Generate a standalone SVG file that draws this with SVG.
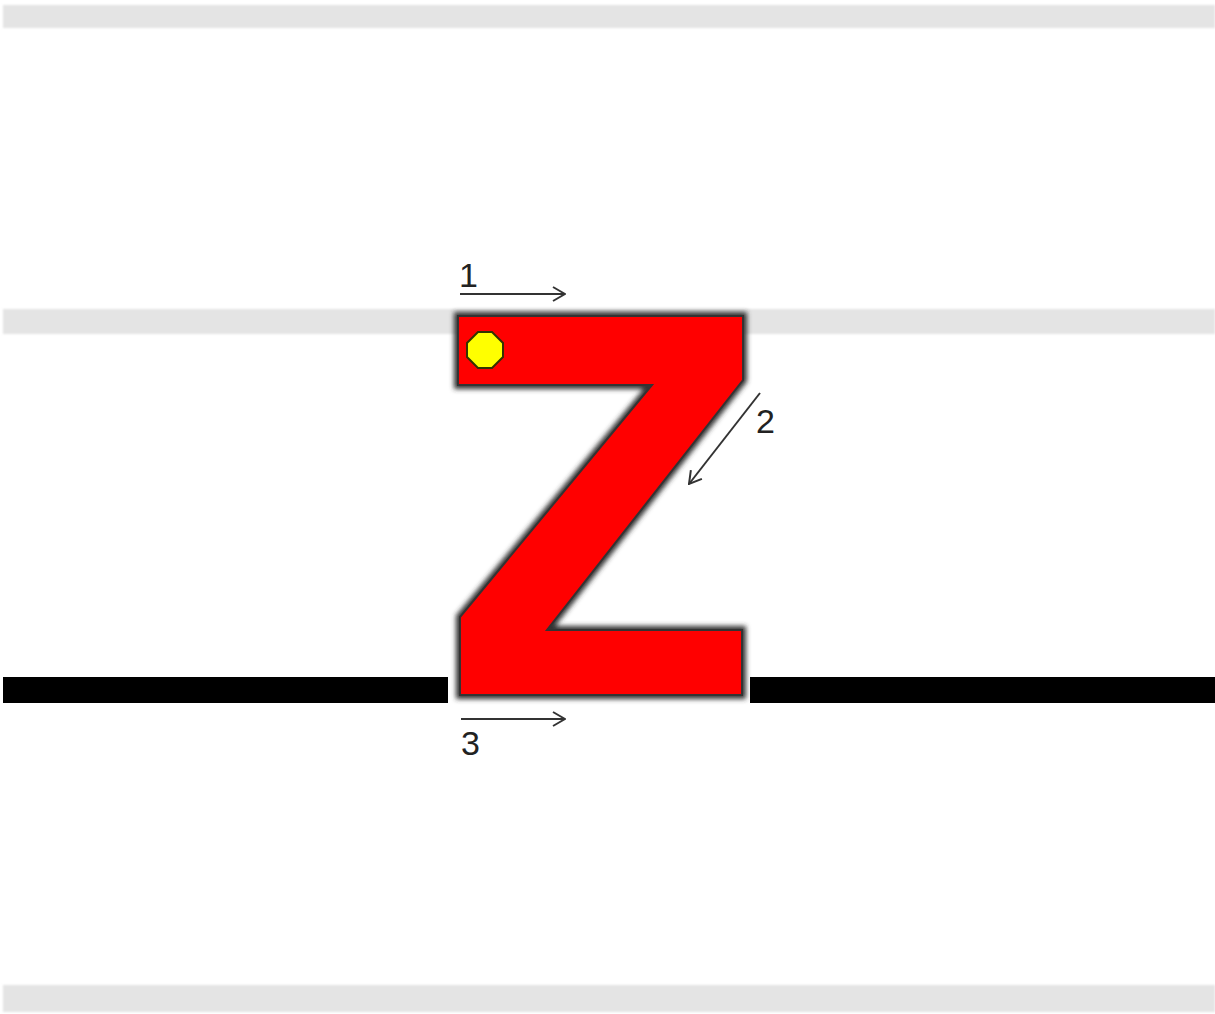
<svg xmlns="http://www.w3.org/2000/svg" width="1215" height="1014" viewBox="0 0 1215 1014">
<style>
.band{fill:#e4e4e4}
.base{fill:#000}
.lbl{font-family:"Liberation Sans",Arial,sans-serif;font-size:34px;fill:#222}
.arr{stroke:#333;stroke-width:2;fill:none}
</style>
<defs>
<filter id="soft" x="-5%" y="-50%" width="110%" height="200%"><feGaussianBlur stdDeviation="1.2"/></filter>
<filter id="glow" x="-10%" y="-10%" width="120%" height="120%"><feGaussianBlur stdDeviation="2.5"/></filter>
<marker id="head" viewBox="0 0 14 16" refX="13" refY="8" markerWidth="14" markerHeight="16" markerUnits="userSpaceOnUse" orient="auto"><path d="M1,1 L13,8 L1,15" fill="none" stroke="#333" stroke-width="2"/></marker>
</defs>
<rect width="1215" height="1014" fill="#fff"/>
<g id="guides">
<rect class="band" x="3" y="5" width="1212" height="23" filter="url(#soft)"/>
<rect class="band" x="3" y="309" width="1212" height="25" filter="url(#soft)"/>
<rect class="band" x="3" y="985" width="1212" height="27" filter="url(#soft)"/>
<rect class="base" x="3" y="677" width="445" height="26"/>
<rect class="base" x="750" y="677" width="465" height="26"/>
</g>
<g id="letter-z">
<polygon points="458,316 743,316 743,380 547,630 742,630 742,695 460,695 460,617 652,385 458,385" fill="none" stroke="#333" stroke-width="8" filter="url(#glow)"/>
<polygon points="458,316 743,316 743,380 547,630 742,630 742,695 460,695 460,617 652,385 458,385" fill="#ff0000" stroke="#333" stroke-width="2"/>
</g>
<g id="start-dot">
<polygon points="478,332 492,332 503,343 503,357 492,368 478,368 467,357 467,343" fill="#ffff00" stroke="#333300" stroke-width="2"/>
</g>
<g id="connectors">
<line class="arr" x1="460" y1="294" x2="565" y2="294" marker-end="url(#head)"/>
<line class="arr" x1="760" y1="393" x2="689" y2="484" marker-end="url(#head)"/>
<line class="arr" x1="461" y1="719" x2="565" y2="719" marker-end="url(#head)"/>
</g>
<g id="labels">
<text class="lbl" x="459" y="287">1</text>
<text class="lbl" x="756" y="433">2</text>
<text class="lbl" x="461" y="755">3</text>
</g>
</svg>
